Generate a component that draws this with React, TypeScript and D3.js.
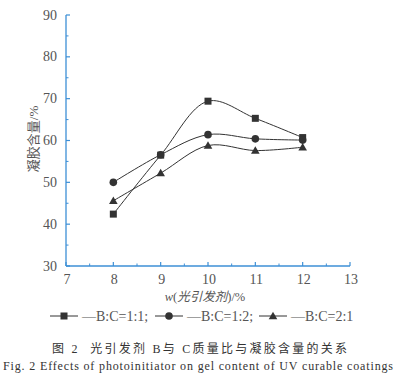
import React from "react";
import * as d3 from "d3";

const xValues = [8, 9, 10, 11, 12];
const series11 = [42.4, 56.5, 69.4, 65.3, 60.7];
const series12 = [50.0, 56.6, 61.4, 60.4, 60.1];
const series21 = [45.6, 52.2, 58.8, 57.6, 58.4];
const seriesNames = ["—B:C=1:1;", "—B:C=1:2;", "—B:C=2:1"];
const xTicks = [7, 8, 9, 10, 11, 12, 13];
const yTicks = [30, 40, 50, 60, 70, 80, 90];

const W = 399, H = 377;
const x = d3.scaleLinear().domain([7, 13]).range([66, 350]);
const y = d3.scaleLinear().domain([30, 90]).range([266, 15]);
const line = d3.line<[number, number]>().x(d => x(d[0])).y(d => y(d[1])).curve(d3.curveCatmullRom.alpha(0.5));

const serif = "Liberation Serif, Times New Roman, DejaVu Serif, serif";
const cjk = "Liberation Serif, Noto Sans CJK SC, serif";
const axisColor = "#3d8fd6";
const ink = "#333";

function Marker({ type, cx, cy }: { type: number; cx: number; cy: number }) {
  if (type === 0) return <rect x={cx - 3.5} y={cy - 3.5} width={7} height={7} fill={ink} />;
  if (type === 1) return <circle cx={cx} cy={cy} r={3.8} fill={ink} />;
  return <path d={`M${cx},${cy - 4.3}L${cx + 4.3},${cy + 3.2}L${cx - 4.3},${cy + 3.2}Z`} fill={ink} />;
}

export default function App() {
  const all = [series11, series12, series21];
  const minorX = d3.range(7.5, 13, 1);
  const minorY = d3.range(35, 90, 10);
  const legendX = [50, 155, 259];
  return (
    <svg width={W} height={H} style={{ position: "absolute", left: 0, top: 0, background: "#fff" }}>
      {/* axes */}
      <line x1={x(7)} x2={x(7)} y1={y(90)} y2={y(30)} stroke={axisColor} strokeWidth={1.3} />
      <line x1={x(7)} x2={x(13)} y1={y(30)} y2={y(30)} stroke={axisColor} strokeWidth={1.3} />
      {yTicks.map(t => (
        <g key={"y" + t}>
          <line x1={x(7)} x2={x(7) + 4} y1={y(t)} y2={y(t)} stroke={axisColor} strokeWidth={1.2} />
          <text x={57} y={y(t) + 4.5} textAnchor="end" fontFamily={serif} fontSize={14} fill="#555">{t}</text>
        </g>
      ))}
      {minorY.map(t => (
        <line key={"my" + t} x1={x(7)} x2={x(7) + 2.5} y1={y(t)} y2={y(t)} stroke={axisColor} strokeWidth={1} />
      ))}
      {xTicks.map(t => (
        <g key={"x" + t}>
          <line x1={x(t)} x2={x(t)} y1={y(30)} y2={y(30) - 4} stroke={axisColor} strokeWidth={1.2} />
          <text x={x(t) + 1} y={284} textAnchor="middle" fontFamily={serif} fontSize={14} fill="#555">{t}</text>
        </g>
      ))}
      {minorX.map(t => (
        <line key={"mx" + t} x1={x(t)} x2={x(t)} y1={y(30)} y2={y(30) - 2.5} stroke={axisColor} strokeWidth={1} />
      ))}
      {/* series */}
      {all.map((s, i) => (
        <g key={"s" + i}>
          <path d={line(xValues.map((v, j) => [v, s[j]] as [number, number])) || ""} fill="none" stroke={ink} strokeWidth={1} />
          {xValues.map((v, j) => <Marker key={j} type={i} cx={x(v)} cy={y(s[j])} />)}
        </g>
      ))}
      {/* y label */}
      <text transform={`translate(38,139) rotate(-90)`} textAnchor="middle" fontFamily={cjk} fontSize={13} fill="#555">
        凝胶含量/%
      </text>
      {/* x label */}
      <text x={205} y={301} textAnchor="middle" fontFamily={cjk} fontSize={12.5} fill="#555">
        <tspan fontStyle="italic">w</tspan>(<tspan fontStyle="italic">光引发剂</tspan>)/%
      </text>
      {/* legend */}
      {seriesNames.map((n, i) => (
        <g key={"l" + i}>
          <line x1={legendX[i]} x2={legendX[i] + 28} y1={316} y2={316} stroke={ink} strokeWidth={1} />
          <Marker type={i} cx={legendX[i] + 14} cy={316} />
          <text x={legendX[i] + 32} y={320.5} fontFamily={serif} fontSize={14} fill="#555">{n}</text>
        </g>
      ))}
      {/* caption */}
      <text x={52} y={353} fontFamily={cjk} fontSize={12} fill="#333" textLength={295} lengthAdjust="spacing" xmlSpace="preserve">图 2  光引发剂 B与 C质量比与凝胶含量的关系</text>
      <text x={3} y={370} fontFamily={serif} fontSize={12} fill="#333" textLength={390} lengthAdjust="spacing">Fig. 2   Effects of photoinitiator on gel content of UV  curable coatings</text>
    </svg>
  );
}
